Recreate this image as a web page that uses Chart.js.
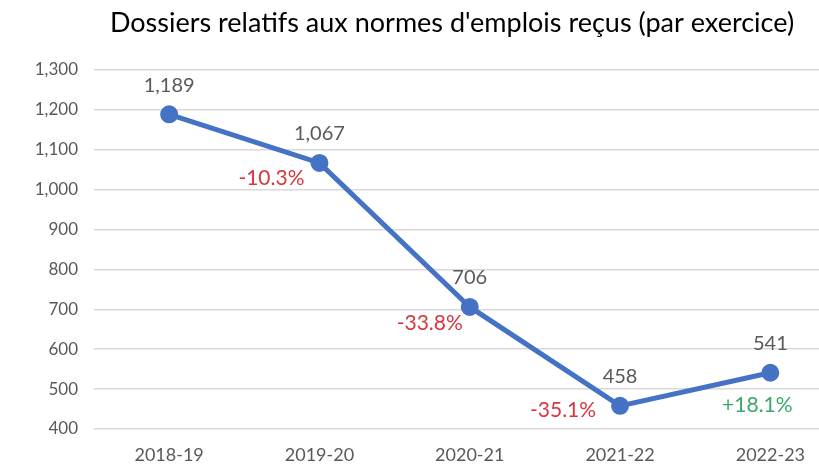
<!DOCTYPE html>
<html>
<head>
<meta charset="utf-8">
<script src="https://cdn.jsdelivr.net/npm/chart.js@4.4.0/dist/chart.umd.min.js"></script>
<style>
  html, body { margin: 0; padding: 0; background: #fff; overflow: hidden; }
  #boite { width: 857px; height: 467px; }
</style>
</head>
<body>
<div id="boite"><canvas id="graficoDossiers"></canvas></div>
<script>
// donnees
const exercices = ['2018-19', '2019-20', '2020-21', '2021-22', '2022-23'];
const dossiers = [1189, 1067, 706, 458, 541];
const variations = ['', '-10.3%', '-33.8%', '-35.1%', '+18.1%'];
const titre = "Dossiers relatifs aux normes d'emplois reçus (par exercice)";

// decalage des etiquettes de variation (comme dans Excel)
const decalagesPct = [[0, 0], [-48, 15], [-40, 16], [-57, 4], [-13, 32]];

const police = 'Lato, "Open Sans", sans-serif';

//plugin pour le titre et les etiquettes
const etiquettes = {
    id: 'etiquettes',
    afterDraw(chart) {
        const ctx = chart.ctx;
        const meta = chart.getDatasetMeta(0);
        ctx.save();
        ctx.textAlign = 'center';
        ctx.textBaseline = 'middle';
        ctx.font = '27px ' + police;
        ctx.fillStyle = '#000';
        ctx.fillText(titre, 452, 23);
        meta.data.forEach((pt, i) => {
            ctx.font = '20px ' + police;
            ctx.fillStyle = '#595959';
            ctx.fillText(dossiers[i].toLocaleString('en-US'), pt.x, pt.y - 29);
            if (variations[i]) {
                ctx.font = '21px ' + police;
                ctx.fillStyle = variations[i].startsWith('+') ? '#3BAA6A' : '#D9363E';
                ctx.fillText(variations[i], pt.x + decalagesPct[i][0], pt.y + decalagesPct[i][1]);
            }
        });
        ctx.restore();
    }
};

const ctx = document.getElementById('graficoDossiers').getContext('2d');
new Chart(ctx, {
    type: 'line',
    data: {
        labels: exercices,
        datasets: [{
            label: 'Dossiers',
            data: dossiers,
            borderColor: '#4472C4',
            backgroundColor: '#4472C4',
            borderWidth: 5,
            pointRadius: 6.5,
            pointHoverRadius: 6.5,
            fill: false,
            tension: 0
        }]
    },
    options: {
        responsive: true,
        maintainAspectRatio: false,
        animation: false,
        layout: { padding: { left: 20, right: 0, top: 70, bottom: 1 } },
        plugins: {
            legend: { display: false },
            tooltip: { enabled: false },
            title: { display: false }
        },
        scales: {
            x: {
                offset: true,
                afterFit: s => { s.height = 37; },
                grid: { display: false, drawTicks: false },
                border: { display: false },
                ticks: { color: '#595959', font: { family: police, size: 18 }, padding: 15 }
            },
            y: {
                min: 400,
                max: 1300,
                afterFit: s => { s.width = 74; },
                grid: { color: '#D9D9D9', lineWidth: 1.5, drawTicks: false },
                border: { display: false },
                ticks: {
                    stepSize: 100,
                    color: '#595959',
                    font: { family: police, size: 17 },
                    padding: 16,
                    callback: v => v.toLocaleString('en-US')
                }
            }
        }
    },
    plugins: [etiquettes]
});
</script>
</body>
</html>
